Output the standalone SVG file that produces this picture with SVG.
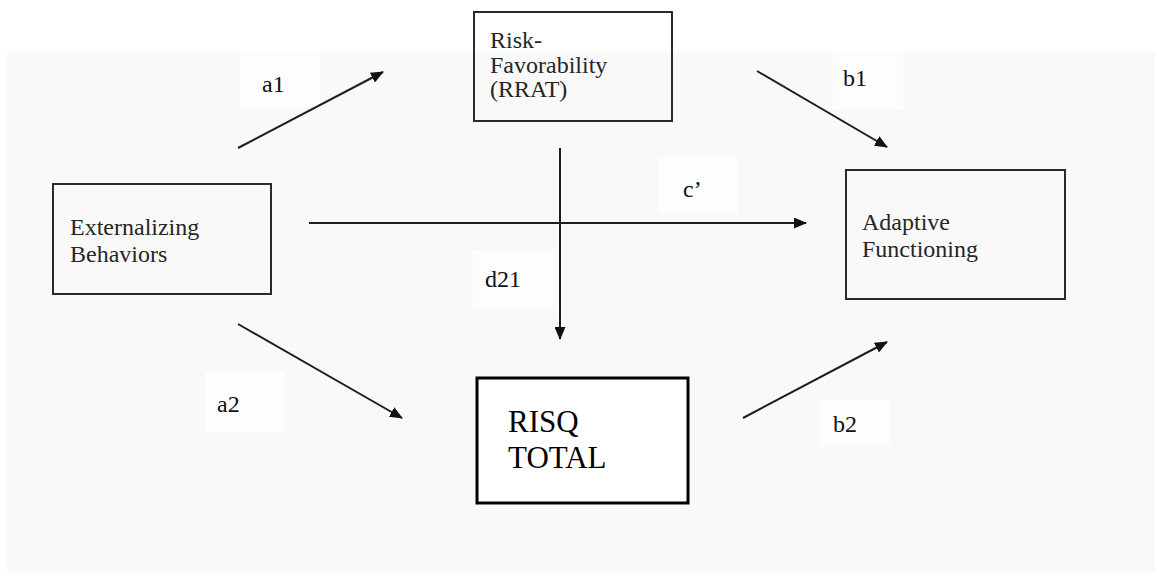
<svg xmlns="http://www.w3.org/2000/svg" width="1155" height="573" viewBox="0 0 1155 573">
  <style>
    .box { fill: none; stroke: #2b2b2b; stroke-width: 2; }
    .box-strong { fill: #ffffff; stroke: #000000; stroke-width: 3; }
    text { font-family: 'Liberation Serif', 'DejaVu Serif', serif; }
    .ntext { font-size: 24px; fill: #262626; }
    .big { font-size: 31px; fill: #000000; }
    .lbl { font-size: 24px; fill: #111111; }
    .edge { stroke: #1e1e1e; stroke-width: 2; fill: none; marker-end: url(#arrow); }
  </style>
  <defs>
    <marker id="arrow" markerUnits="userSpaceOnUse" markerWidth="13" markerHeight="11" refX="12" refY="5.5" orient="auto">
      <path d="M0,0 L13,5.5 L0,11 z" fill="#111111"/>
    </marker>
  </defs>

  <g id="background">
    <rect x="0" y="0" width="1155" height="573" fill="#ffffff"/>
    <rect x="7" y="52" width="1148" height="521" fill="#f9f9f9"/>
    <rect x="240" y="52" width="80" height="56" fill="#fdfdfd"/>
    <rect x="833" y="52" width="70" height="58" fill="#fdfdfd"/>
    <rect x="658" y="157" width="80" height="56" fill="#fdfdfd"/>
    <rect x="473" y="250" width="80" height="57" fill="#fdfdfd"/>
    <rect x="205" y="372" width="80" height="61" fill="#fdfdfd"/>
    <rect x="820" y="400" width="70" height="46" fill="#fdfdfd"/>
  </g>

  <g id="connectors">
    <line class="edge" x1="238" y1="148" x2="383" y2="72"/>
    <line class="edge" x1="757" y1="71" x2="887" y2="147"/>
    <line class="edge" x1="309" y1="223" x2="806" y2="223"/>
    <line class="edge" x1="560" y1="148" x2="560" y2="339"/>
    <line class="edge" x1="238" y1="324" x2="402" y2="418"/>
    <line class="edge" x1="743" y1="418" x2="887" y2="342"/>
    <text class="lbl" x="262" y="92" font-family="'Liberation Serif', serif">a1</text>
    <text class="lbl" x="843" y="86" font-family="'Liberation Serif', serif">b1</text>
    <text class="lbl" x="683" y="197" font-family="'Liberation Serif', serif">c’</text>
    <text class="lbl" x="485" y="287" font-family="'Liberation Serif', serif">d21</text>
    <text class="lbl" x="217" y="412" font-family="'Liberation Serif', serif">a2</text>
    <text class="lbl" x="833" y="432" font-family="'Liberation Serif', serif">b2</text>
  </g>

  <g id="node-externalizing" font-family="'Liberation Serif', serif">
    <rect class="box" x="53" y="184" width="218" height="110"/>
    <text class="ntext" x="70" y="235">Externalizing</text>
    <text class="ntext" x="70" y="262">Behaviors</text>
  </g>

  <g id="node-risk" font-family="'Liberation Serif', serif">
    <rect class="box" x="474" y="12" width="198" height="109"/>
    <text class="ntext" x="490" y="48">Risk-</text>
    <text class="ntext" x="490" y="73">Favorability</text>
    <text class="ntext" x="490" y="97">(RRAT)</text>
  </g>

  <g id="node-adaptive" font-family="'Liberation Serif', serif">
    <rect class="box" x="846" y="170" width="219" height="129"/>
    <text class="ntext" x="862" y="230">Adaptive</text>
    <text class="ntext" x="862" y="257">Functioning</text>
  </g>

  <g id="node-risq" font-family="'Liberation Serif', serif">
    <rect class="box-strong" x="477" y="378" width="211" height="125"/>
    <text class="big" x="508" y="432">RISQ</text>
    <text class="big" x="508" y="468">TOTAL</text>
  </g>
</svg>
